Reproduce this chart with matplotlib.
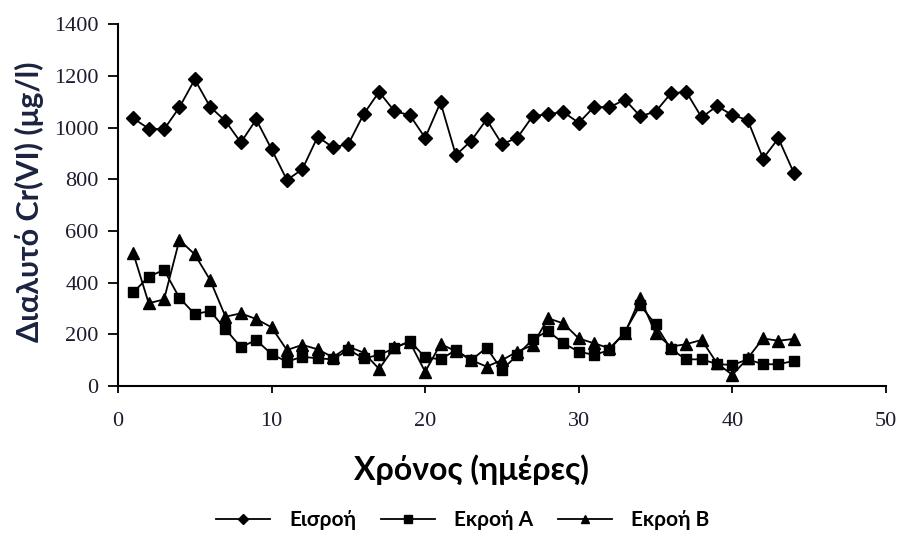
import matplotlib
matplotlib.use("Agg")
import matplotlib.pyplot as plt

# Ημέρες δειγματοληψίας
days = list(range(1, 45))

# Συγκέντρωση Cr(VI) στην εισροή (μg/l)
inflow = [1035, 996, 993, 1078, 1186, 1080, 1025, 942, 1031, 916,
          797, 838, 964, 923, 936, 1052, 1138, 1063, 1048, 960,
          1097, 893, 949, 1031, 936, 960, 1044, 1052, 1060, 1018,
          1080, 1078, 1108, 1044, 1061, 1132, 1138, 1039, 1083, 1048,
          1029, 880, 958, 825]

# Εκροή Α
outflow_a = [362, 423, 449, 341, 278, 290, 220, 150, 178, 123,
             94, 113, 107, 103, 140, 107, 120, 146, 174, 111,
             103, 139, 100, 148, 62, 120, 180, 213, 165, 133,
             120, 139, 210, 313, 238, 142, 103, 103, 85, 81,
             103, 84, 84, 97]

# Εκροή Β
outflow_b = [513, 320, 335, 565, 509, 410, 268, 281, 259, 227,
             139, 159, 142, 111, 152, 129, 66, 150, 170, 55,
             162, 135, 100, 75, 100, 133, 158, 262, 242, 184,
             165, 146, 204, 339, 204, 152, 162, 178, 88, 43,
             107, 184, 175, 182]

xticks = [0, 10, 20, 30, 40, 50]
yticks = [0, 200, 400, 600, 800, 1000, 1200, 1400]

greek = ['Lato', 'Open Sans', 'DejaVu Sans']

fig = plt.figure(figsize=(9.04, 5.36), dpi=100)
ax = fig.add_axes([0.1305, 0.2799, 0.8495, 0.6751])

ax.plot(days, inflow, color='black', lw=1.3, marker='D', ms=7, label='Εισροή')
ax.plot(days, outflow_a, color='black', lw=1.3, marker='s', ms=7.5, label='Εκροή Α')
ax.plot(days, outflow_b, color='black', lw=1.3, marker='^', ms=8.5, label='Εκροή Β')

ax.set_xlim(0, 50)
ax.set_ylim(0, 1400)
ax.set_xticks(xticks)
ax.set_yticks(yticks)
ax.tick_params(axis='y', direction='out', length=7, width=1.3, colors='black', pad=7)
ax.tick_params(axis='x', direction='out', length=5, width=1.3, colors='black', pad=14)
for lab in ax.get_xticklabels() + ax.get_yticklabels():
    lab.set_family('Liberation Serif')
    lab.set_fontsize(16)
    lab.set_color('#1c1c30')

for s in ['top', 'right']:
    ax.spines[s].set_visible(False)
for s in ['left', 'bottom']:
    ax.spines[s].set_linewidth(1.5)

ax.set_xlabel('Χρόνος (ημέρες)', family=greek, fontsize=23, fontweight='bold')
ax.xaxis.set_label_coords(0.46, -0.19)
ax.set_ylabel('Διαλυτό Cr(VI) (μg/l)', family=greek, fontsize=22,
              fontweight='bold', color='#1b2340')
ax.yaxis.set_label_coords(-0.096, 0.51)

fig.legend(loc='center', bbox_to_anchor=(0.512, 0.03), ncol=3, frameon=False,
           prop={'family': greek, 'size': 15, 'weight': 'bold'}, markerscale=0.7,
           handlelength=2.6, handletextpad=0.9, columnspacing=1.2)

fig.savefig('out.png', dpi=100)
